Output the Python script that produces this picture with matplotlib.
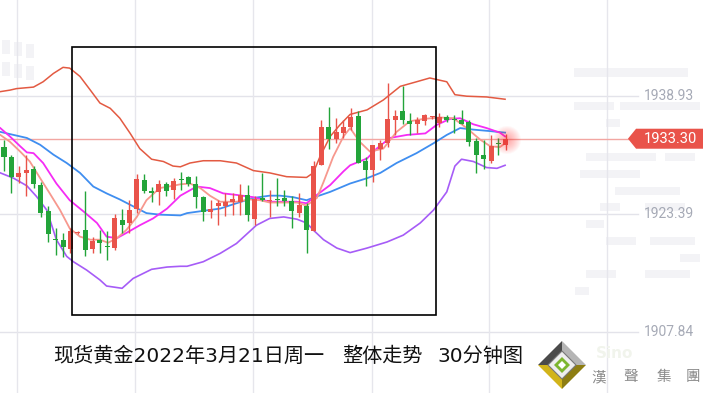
import matplotlib
matplotlib.use("Agg")
import matplotlib.pyplot as plt
from matplotlib.patches import Polygon, Rectangle, Circle

plt.rcParams['font.family'] = ['Noto Sans CJK SC', 'DejaVu Sans']

# 30 minute candles (price)
opens = [1932.2, 1930.9, 1928.3, 1928.8, 1929.3, 1927.2, 1923.8, 1920.1, 1920.0, 1918.8,
         1920.9, 1921.3, 1918.8, 1920.0, 1919.2, 1918.9, 1922.6, 1922.2, 1924.1, 1927.9,
         1926.4, 1926.3, 1927.3, 1926.5, 1928.0, 1928.2, 1927.3, 1925.6, 1923.7, 1924.4,
         1924.4, 1925.0, 1924.9, 1925.9, 1922.7, 1925.5, 1925.1, 1925.4, 1925.5, 1925.1,
         1923.5, 1924.4, 1921.2, 1929.8, 1934.9, 1933.2, 1934.0, 1934.9, 1936.3, 1930.4,
         1929.2, 1932.0, 1932.7, 1935.8, 1936.9, 1935.6, 1935.3, 1935.6, 1936.1, 1935.4,
         1936.1, 1935.9, 1935.8, 1935.5, 1933.0, 1931.2, 1930.4, 1932.7, 1932.5]
highs = [1933.1, 1931.2, 1929.7, 1931.2, 1929.7, 1927.6, 1924.4, 1921.6, 1920.9, 1921.5,
         1921.1, 1926.4, 1920.4, 1921.3, 1921.2, 1923.4, 1924.0, 1925.2, 1928.7, 1928.7,
         1927.0, 1927.8, 1927.6, 1928.1, 1928.9, 1928.4, 1928.4, 1925.7, 1925.2, 1925.2,
         1926.1, 1926.1, 1927.3, 1927.2, 1925.7, 1928.8, 1926.6, 1928.1, 1926.6, 1925.8,
         1926.1, 1924.8, 1930.4, 1935.8, 1937.5, 1936.0, 1935.8, 1937.3, 1936.9, 1930.9,
         1932.5, 1933.1, 1940.6, 1937.1, 1940.3, 1936.7, 1936.2, 1936.6, 1936.3, 1936.7,
         1936.4, 1936.4, 1937.1, 1935.8, 1933.4, 1933.1, 1933.8, 1933.4, 1933.9]
lows = [1929.0, 1926.2, 1927.5, 1925.8, 1926.8, 1923.0, 1919.7, 1918.0, 1917.7, 1918.3,
        1920.8, 1917.9, 1918.3, 1918.3, 1917.3, 1918.6, 1920.9, 1920.9, 1923.5, 1926.1,
        1925.0, 1924.6, 1925.7, 1925.3, 1926.6, 1927.1, 1924.2, 1922.4, 1922.8, 1921.9,
        1923.1, 1923.3, 1923.3, 1922.4, 1921.9, 1925.1, 1923.0, 1924.4, 1924.4, 1921.6,
        1923.0, 1918.3, 1921.2, 1929.8, 1932.0, 1932.7, 1933.4, 1934.5, 1930.1, 1927.1,
        1927.6, 1930.5, 1932.2, 1933.8, 1935.3, 1933.8, 1934.0, 1935.1, 1935.9, 1934.9,
        1935.5, 1934.0, 1935.2, 1932.3, 1928.8, 1929.3, 1930.1, 1931.2, 1931.8]
closes = [1930.9, 1928.3, 1928.8, 1929.2, 1927.3, 1923.5, 1920.7, 1919.9, 1919.1, 1921.2,
          1921.0, 1918.7, 1919.8, 1919.5, 1919.0, 1922.8, 1921.9, 1923.9, 1928.0, 1926.4,
          1926.2, 1927.3, 1926.4, 1927.7, 1927.8, 1927.4, 1925.6, 1923.6, 1924.0, 1924.8,
          1924.9, 1925.3, 1925.9, 1923.2, 1925.3, 1925.2, 1925.25, 1925.2, 1925.1, 1923.8,
          1924.6, 1921.3, 1929.7, 1934.9, 1933.2, 1934.2, 1934.9, 1936.2, 1930.1, 1929.2,
          1932.5, 1932.8, 1935.9, 1936.3, 1935.7, 1935.2, 1935.8, 1936.4, 1936.25, 1936.2,
          1935.8, 1935.8, 1935.2, 1932.9, 1931.2, 1930.6, 1932.3, 1932.6, 1933.3]

# indicator lines: (bar position, price)
ub_x = [-0.5, 0.8, 1.7, 4.0, 5.3, 6.7, 8.0, 8.9, 10.3, 11.7, 13.0, 14.4, 15.7, 17.1, 18.4, 20.0,
        21.6, 22.9, 23.9, 25.2, 27.0, 29.3, 31.5, 33.8, 36.0, 38.3, 41.0, 41.9, 42.8, 44.2,
        45.5, 46.9, 49.2, 51.4, 53.7, 55.9, 57.7, 60.0, 61.1, 62.7, 65.4, 67.9]
ub_y = [1939.5, 1939.7, 1939.9, 1940.1, 1940.8, 1941.9, 1942.7, 1942.6, 1941.5, 1939.7, 1938.0,
        1937.3, 1936.0, 1934.0, 1932.0, 1930.6, 1930.3, 1929.7, 1929.6, 1930.1, 1930.4, 1930.4,
        1930.1, 1929.1, 1928.8, 1928.3, 1928.2, 1928.8, 1930.9, 1933.6, 1935.1, 1936.5, 1937.1,
        1938.4, 1940.2, 1940.8, 1941.3, 1940.8, 1939.1, 1938.9, 1938.8, 1938.5]
lb_x = [-0.5, 1.3, 3.1, 4.4, 5.8, 7.1, 8.5, 9.4, 11.2, 13.0, 13.9, 16.0, 17.5, 20.0, 22.1, 23.9,
        24.8, 27.0, 29.3, 31.5, 33.3, 34.2, 36.0, 37.9, 39.7, 41.0, 42.1, 43.3, 45.1, 46.9,
        49.2, 51.9, 54.1, 56.4, 58.2, 60.0, 61.1, 62.0, 63.6, 65.4, 66.8, 67.9]
lb_y = [1928.8, 1928.1, 1927.1, 1925.7, 1923.9, 1920.0, 1917.8, 1917.1, 1916.0, 1914.7, 1913.9,
        1913.6, 1914.9, 1916.1, 1916.4, 1916.5, 1916.5, 1917.1, 1918.2, 1919.5, 1921.1, 1921.9,
        1922.8, 1923.0, 1922.7, 1922.2, 1921.1, 1920.0, 1918.9, 1918.3, 1918.9, 1919.7, 1920.6,
        1922.2, 1923.9, 1926.3, 1929.7, 1930.6, 1930.3, 1929.5, 1929.4, 1929.8]
mb_x = [-0.5, 1.3, 3.1, 4.9, 6.7, 8.5, 10.3, 12.1, 13.9, 15.7, 17.5, 19.3, 21.1, 23.9, 24.8, 27.0,
        29.3, 31.5, 33.8, 36.0, 37.4, 39.2, 41.0, 42.4, 44.2, 46.9, 49.2, 51.0, 53.2, 55.9,
        58.2, 60.0, 61.8, 63.6, 65.9, 67.9]
mb_y = [1934.2, 1933.8, 1933.4, 1932.5, 1931.2, 1930.1, 1928.8, 1927.0, 1926.1, 1925.3, 1924.4,
        1923.5, 1923.3, 1923.2, 1923.5, 1923.8, 1924.1, 1924.8, 1925.5, 1925.8, 1925.8, 1925.6,
        1925.2, 1925.7, 1926.3, 1927.4, 1928.1, 1928.8, 1930.1, 1931.4, 1932.7, 1933.8, 1934.7,
        1934.5, 1934.3, 1934.1]
m10_x = [-0.5, 0.8, 2.2, 3.1, 4.0, 5.3, 7.1, 8.9, 10.8, 12.6, 13.9, 15.3, 16.6, 18.4, 20.2, 22.1,
         23.9, 26.1, 27.9, 29.7, 31.5, 33.8, 36.0, 39.7, 41.0, 42.4, 44.2, 46.0, 46.9, 49.2,
         50.5, 52.3, 54.6, 57.1, 58.6, 60.4, 61.8, 63.6, 65.4, 67.2, 67.9]
m10_y = [1934.7, 1933.6, 1932.3, 1931.5, 1931.4, 1930.1, 1927.4, 1925.2, 1923.7, 1922.2, 1920.4,
         1920.2, 1920.9, 1921.9, 1922.8, 1924.1, 1925.8, 1927.0, 1926.8, 1926.1, 1925.9, 1925.6,
         1925.0, 1925.0, 1924.8, 1925.9, 1927.2, 1929.0, 1929.8, 1930.7, 1932.0, 1933.4, 1933.8,
         1934.0, 1935.1, 1935.9, 1936.0, 1935.2, 1934.7, 1934.1, 1933.6]
m5_x = [-0.5, 0.8, 2.2, 3.5, 4.9, 6.2, 7.6, 8.9, 10.3, 11.7, 13.0, 14.1, 15.3, 16.6, 18.0, 19.3,
        21.1, 22.9, 23.9, 25.2, 26.6, 27.9, 29.3, 31.5, 33.3, 34.7, 36.0, 39.7, 41.0, 42.4,
        43.3, 44.6, 46.0, 46.9, 48.2, 49.6, 51.4, 53.2, 55.0, 56.8, 59.1, 60.9, 62.7, 64.5,
        65.9, 67.2, 67.9]
m5_y = [1933.8, 1932.9, 1931.6, 1930.3, 1928.1, 1926.1, 1923.9, 1921.5, 1920.4, 1920.0, 1920.0,
        1919.6, 1920.2, 1921.3, 1923.0, 1925.2, 1926.8, 1927.1, 1927.3, 1927.4, 1926.8, 1925.8,
        1925.0, 1925.0, 1925.3, 1925.2, 1924.9, 1924.9, 1924.5, 1925.5, 1927.6, 1930.9, 1933.6,
        1934.7, 1932.9, 1931.6, 1932.0, 1934.2, 1935.6, 1935.9, 1936.1, 1936.0, 1934.7, 1933.2,
        1932.3, 1932.2, 1932.7]

grid_prices = [1938.93, 1923.39, 1907.84]
last_price = 1933.30
title_parts = ["现货黄金2022年3月21日周一", "整体走势", "30分钟图"]

RED = '#e9534a'
GREEN = '#23a43a'

fig = plt.figure(figsize=(7.03, 3.93), dpi=100)
fig.patch.set_facecolor('white')

# faint watermark blocks in the background (pixel units)
bg = fig.add_axes([0, 0, 1, 1], zorder=0)
bg.set_xlim(0, 703)
bg.set_ylim(393, 0)
bg.axis('off')
wm = [(574, 68, 114, 9), (574, 102, 40, 8), (620, 102, 80, 8), (606, 119, 14, 8),
      (586, 153, 70, 8), (665, 153, 30, 8), (580, 170, 60, 8), (615, 187, 65, 8),
      (600, 203, 20, 8), (645, 203, 40, 8), (586, 220, 18, 8), (606, 237, 30, 8),
      (650, 237, 45, 8), (680, 254, 20, 8), (586, 270, 30, 8), (645, 270, 45, 8),
      (575, 287, 14, 8), (2, 40, 8, 14), (14, 42, 8, 14), (26, 44, 8, 14),
      (2, 62, 8, 14), (14, 64, 8, 14), (26, 66, 8, 14)]
for x0, y0, ww, hh in wm:
    bg.add_patch(Rectangle((x0, y0), ww, hh, facecolor='#f3f3f6', edgecolor='none'))

ax = fig.add_axes([0, 0, 1, 1], facecolor='none', zorder=1)
ax.set_xlim(-0.542, 94.72)
ax.set_ylim(1899.81, 1951.57)
ax.axis('off')

# grid
for p in grid_prices:
    ax.plot([-0.6, 85.9], [p, p], color='#e3e3ea', lw=1, zorder=1)
for gx in [1.76, 17.75, 33.74, 49.86, 65.72, 81.7]:
    ax.axvline(gx, color='#e6e6ec', lw=1, zorder=1)
for p in grid_prices:
    ax.text(86.7, p, f"{p:.2f}", color='#a6aab6', fontsize=10, family='Roboto',
            va='center', ha='left', zorder=5)

# last price line + tag
ax.plot([-0.6, 84.55], [last_price, last_price], color='#f2a6a2', lw=1, zorder=2)
d = 0.1317 * 10
tag = Polygon([(84.55, last_price), (85.65, last_price + d), (95, last_price + d),
               (95, last_price - d), (85.65, last_price - d)], closed=True,
              facecolor=RED, edgecolor='none', zorder=6)
ax.add_patch(tag)
ax.text(86.7, last_price, f"{last_price:.2f}", color='white', fontsize=10.5,
        family='Roboto', va='center', ha='left', zorder=7)

# indicators
ax.plot(ub_x, ub_y, color='#e35a42', lw=1.1, zorder=3)
ax.plot(lb_x, lb_y, color='#a65cf7', lw=1.2, zorder=3)
ax.plot(mb_x, mb_y, color='#3f8ef0', lw=1.3, zorder=3)
ax.plot(m10_x, m10_y, color='#f52cf5', lw=1.3, zorder=3)
ax.plot(m5_x, m5_y, color='#f7988e', lw=1.3, zorder=3)

# candles
for i in range(len(opens)):
    o, h, l, c = opens[i], highs[i], lows[i], closes[i]
    col = RED if c >= o else GREEN
    ax.vlines(i, l, h, color=col, lw=1, zorder=4)
    bot = min(o, c)
    hgt = max(abs(c - o), 0.15)
    ax.bar(i, hgt, bottom=bot, width=0.68, color=col, edgecolor='none', zorder=4)

# overlay in pixel units for the frame, glow, caption and logo
ov = fig.add_axes([0, 0, 1, 1], facecolor='none', zorder=2)
ov.set_xlim(0, 703)
ov.set_ylim(393, 0)
ov.axis('off')

# soft glow round the last bar
for r in range(14, 2, -1):
    ov.add_patch(Circle((507, 140), r, facecolor='#ff2a2a', edgecolor='none',
                        alpha=0.035, zorder=1))

ov.add_patch(Rectangle((72, 47), 364, 268, fill=False, edgecolor='black', lw=1.2, zorder=8))
for txt, xx in zip(title_parts, [53, 342, 437]):
    ov.text(xx, 356, txt, fontsize=14.5, color='#111111', va='center', ha='left',
            family=['DejaVu Sans', 'Noto Sans CJK SC'])

# logo
cx, cy = 562, 365
outer, inner = 24, 14
top, rt, bt, lf = (cx, cy - outer), (cx + outer, cy), (cx, cy + outer), (cx - outer, cy)
itop, irt, ibt, ilf = (cx, cy - inner), (cx + inner, cy), (cx, cy + inner), (cx - inner, cy)
ov.add_patch(Polygon([lf, top, itop, ilf], facecolor='#4a4a4a', edgecolor='none'))
ov.add_patch(Polygon([top, rt, irt, itop], facecolor='#b5b5b5', edgecolor='none'))
ov.add_patch(Polygon([rt, bt, ibt, irt], facecolor='#8d7d12', edgecolor='none'))
ov.add_patch(Polygon([bt, lf, ilf, ibt], facecolor='#d2b41a', edgecolor='none'))
ov.add_patch(Polygon([itop, irt, ibt, ilf], facecolor='#eeeeee', edgecolor='#777777', lw=0.8))
g = 8
ov.add_patch(Polygon([(cx, cy - g), (cx + g, cy), (cx, cy + g), (cx - g, cy)],
                     facecolor='#7cb62e', edgecolor='none'))
w = 4
ov.add_patch(Polygon([(cx, cy - w), (cx + w, cy), (cx, cy + w), (cx - w, cy)],
                     facecolor='white', edgecolor='none'))
ov.text(596, 353, "Sino", fontsize=11, color='#f1f4ec', fontweight='bold',
        va='center', ha='left', family='DejaVu Sans')
for ch, xx in zip("漢聲集團", [599, 631, 663.5, 692.5]):
    ov.text(xx, 377, ch, fontsize=10.5, color='#8a8a8a', va='center', ha='center',
            family=['Noto Sans CJK TC', 'DejaVu Sans'])

fig.savefig('out.png', dpi=100)
